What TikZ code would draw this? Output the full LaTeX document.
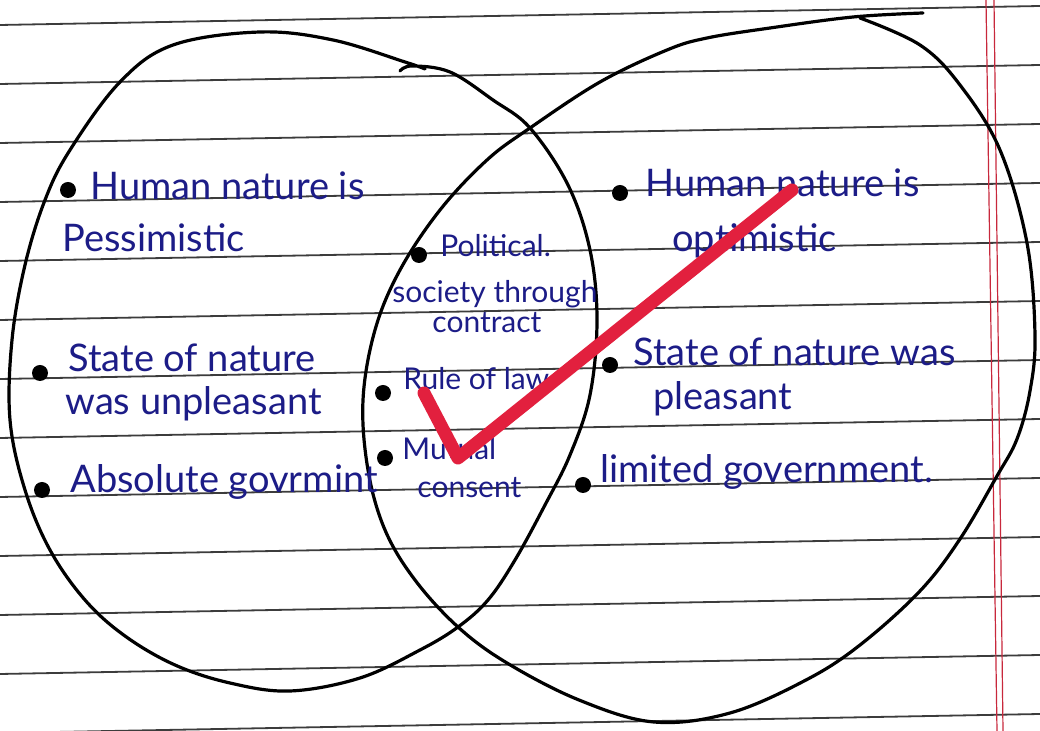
\documentclass[tikz,border=0pt]{standalone}
\usepackage{fontspec}
\setmainfont{Lato}
\usepackage{tikz}
\definecolor{ink}{RGB}{28,28,135}
\definecolor{checkred}{RGB}{226,32,62}
\definecolor{rule}{RGB}{60,60,60}
\definecolor{marginred}{RGB}{200,40,60}

\begin{document}
\begin{tikzpicture}[
    x=0.5pt, y=-0.5pt,
    ruled/.style={draw=rule, line width=0.9pt},
    margin/.style={draw=marginred, line width=0.6pt},
    ring/.style={draw=black, line width=1.6pt, line cap=round, line join=round},
    hand/.style={text=ink, anchor=base west, inner sep=0pt, font=\fontsize{19}{21}\selectfont},
    small/.style={hand, font=\fontsize{15}{17}\selectfont},
    dot/.style={circle, fill=black, inner sep=0pt, minimum size=8pt},
    tick/.style={draw=checkred, line width=6.5pt, line cap=round, line join=round}
]
    \useasboundingbox (0,0) rectangle (1040,731);
    \fill[white] (0,0) rectangle (1040,731);

    \foreach \k in {0,...,12}
        \draw[ruled] (0,{25+59*\k}) -- (1040,{6+59*\k});
    \draw[margin] (986,0) -- (997,731);
    \draw[margin] (994,0) -- (1003,731);

    \draw[ring] plot[smooth, tension=0.6] coordinates {
        (400,71) (412,66) (450,72) (493,100) (530,128) (568,185) (590,250)
        (597,320) (590,395) (570,455) (545,505) (515,560) (488,600) (458,627)
        (420,650) (360,678) (290,691) (230,683) (175,665) (125,636) (85,600)
        (50,550) (25,490) (10,420) (12,340) (25,265) (45,200) (70,150)
        (120,82) (173,45) (260,32) (333,40) (405,62) (425,69)};
    \draw[ring] plot[smooth, tension=0.6] coordinates {
        (923,13) (853,17) (770,28) (707,38) (667,50) (600,82) (530,128)
        (487,160) (440,210) (400,270) (375,330) (363,400) (368,470) (385,530)
        (415,580) (458,627) (507,663) (579,700) (654,722) (730,713) (806,680)
        (860,645) (920,591) (960,539) (997,476) (1017,439) (1030,391)
        (1035,335) (1027,243) (1000,150) (960,85) (920,45) (860,18)};

    \node[dot] (lb1) at (68,190) {};
    \node[hand] (lt1) at (90,200) {Human nature is};
    \node[hand] (lt2) at (62,252) {Pessimistic};
    \node[dot] (lb2) at (40,373) {};
    \node[hand] (lt3) at (68,372) {State of nature};
    \node[hand] (lt4) at (65,415) {was unpleasant};
    \node[dot] (lb3) at (42,490) {};
    \node[hand] (lt5) at (70,493) {Absolute govrmint};

    \node[dot] (mb1) at (419,255) {};
    \node[small] (mt1) at (440,257) {Political.};
    \node[small] (mt2) at (392,303) {society through};
    \node[small] (mt3) at (432,333) {contract};
    \node[dot] (mb2) at (383,393) {};
    \node[small] (mt4) at (403,390) {Rule of law};
    \node[dot] (mb3) at (385,458) {};
    \node[small] (mt5) at (402,460) {Mutual};
    \node[small] (mt6) at (417,498) {consent};

    \node[dot] (rb1) at (620,193) {};
    \node[hand] (rt1) at (645,197) {Human nature is};
    \node[hand] (rt2) at (672,252) {optimistic};
    \node[dot] (rb2) at (610,365) {};
    \node[hand] (rt3) at (633,366) {State of nature was};
    \node[hand] (rt4) at (653,410) {pleasant};
    \node[dot] (rb3) at (583,485) {};
    \node[hand] (rt5) at (600,483) {limited government.};

    \coordinate (tickA) at (424,393);
    \coordinate (tickB) at (458,458);
    \coordinate (tickC) at (792,190);
    \draw[tick] (tickA) -- (tickB) -- (tickC);
\end{tikzpicture}
\end{document}
